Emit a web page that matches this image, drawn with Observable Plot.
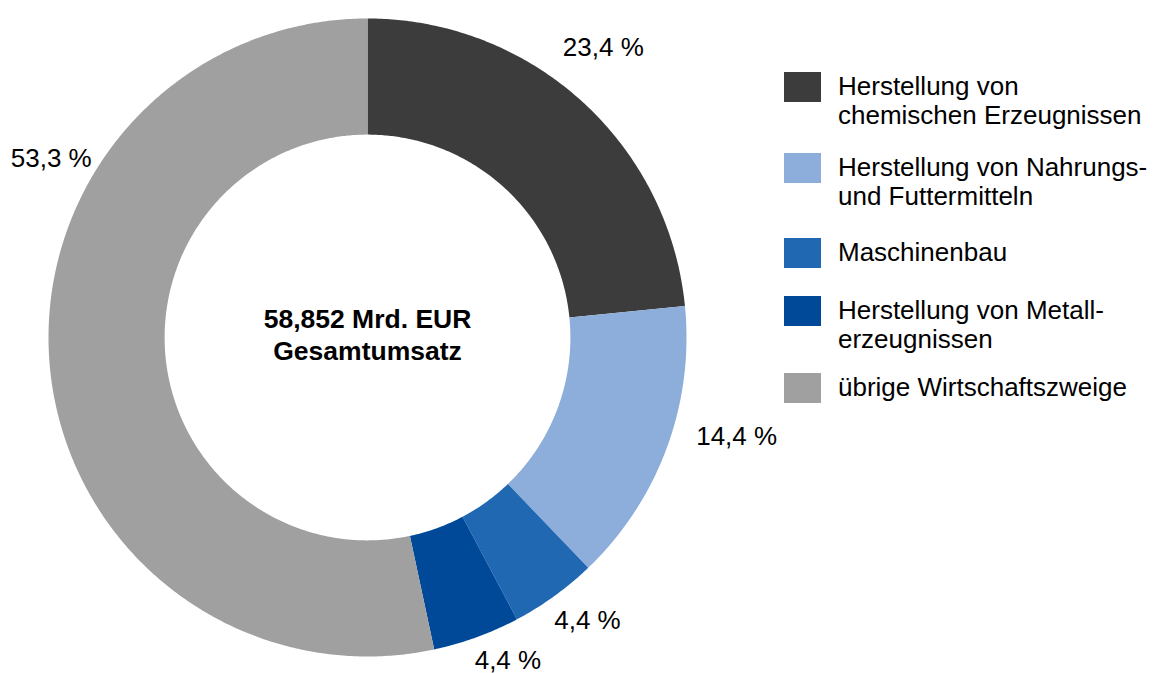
<!DOCTYPE html>
<html>
<head>
<meta charset="utf-8">
<script src="https://cdn.jsdelivr.net/npm/d3@7"></script>
<script src="https://cdn.jsdelivr.net/npm/@observablehq/plot@0.6"></script>
<style>
  html, body { margin: 0; padding: 0; background: #fff; }
  #wrap { position: relative; width: 1156px; height: 673px; font-family: "Liberation Sans", Arial, sans-serif; }
  #chart { position: absolute; left: 0; top: 0; }
  .lg-item { position: absolute; left: 784px; }
  .lg-sw { position: absolute; left: 0; width: 37px; height: 30px; }
  .lg-tx { position: absolute; left: 54px; white-space: pre; font-size: 26px; line-height: 29px; color: #000; }
</style>
</head>
<body>
<div id="wrap"><div id="chart"></div></div>
<script>
// ---- data ----
const categories = [
  "Herstellung von\nchemischen Erzeugnissen",
  "Herstellung von Nahrungs-\nund Futtermitteln",
  "Maschinenbau",
  "Herstellung von Metall-\nerzeugnissen",
  "übrige Wirtschaftszweige"
];
const shares = [23.4, 14.4, 4.4, 4.4, 53.3];
const shareLabels = ["23,4 %", "14,4 %", "4,4 %", "4,4 %", "53,3 %"];
const colors = ["#3c3c3c", "#8dadda", "#2068b2", "#004898", "#a0a0a0"];
const centerLines = ["58,852 Mrd. EUR", "Gesamtumsatz"];

// ---- layout ----
const innerRatio = 0.636;
const labelAngleDeg = [39.1, 105, 142.2, 156.5, 299.5];
const labelRadius = [1.172, 1.198, 1.125, 1.104, 1.139];
const legendTops = [72, 153, 238, 296, 373];

const total = d3.sum(shares);
const pts = [];
let cum = 0;
shares.forEach((v, i) => {
  const a0 = cum / total * 2 * Math.PI;
  cum += v;
  const a1 = cum / total * 2 * Math.PI;
  const n = Math.max(4, Math.ceil((a1 - a0) / (Math.PI / 360)));
  for (let k = 0; k <= n; k++) {
    const t = a0 + (a1 - a0) * k / n;
    pts.push({cat: categories[i], x: Math.sin(t), y: Math.cos(t)});
  }
  for (let k = n; k >= 0; k--) {
    const t = a0 + (a1 - a0) * k / n;
    pts.push({cat: categories[i], x: innerRatio * Math.sin(t), y: innerRatio * Math.cos(t)});
  }
});

const labels = shareLabels.map((s, i) => {
  const t = labelAngleDeg[i] * Math.PI / 180;
  return {text: s, x: labelRadius[i] * Math.sin(t), y: labelRadius[i] * Math.cos(t)};
});

const cx = 367, cy = 337, R = 319;
const chart = Plot.plot({
  width: 1156,
  height: 673,
  margin: 0,
  style: {fontFamily: '"Liberation Sans", Arial, sans-serif', background: "transparent", overflow: "visible"},
  x: {domain: [-1, 1], range: [cx - R, cx + R], axis: null},
  y: {domain: [-1, 1], range: [cy + R, cy - R], axis: null},
  color: {domain: categories, range: colors},
  marks: [
    Plot.line(pts, {x: "x", y: "y", z: "cat", fill: "cat", stroke: "none", curve: "linear"}),
    Plot.text(labels, {x: "x", y: "y", text: "text", fontSize: 26, fill: "#000", textAnchor: "middle", lineAnchor: "middle"}),
    Plot.text([centerLines.join("\n")], {x: () => 0, y: () => 0, text: d => d, fontSize: 26.5, fontWeight: "bold", fill: "#000", lineHeight: 1.2, lineAnchor: "middle", dy: -4})
  ]
});
document.getElementById("chart").appendChild(chart);

const wrap = document.getElementById("wrap");
categories.forEach((c, i) => {
  const item = document.createElement("div");
  item.className = "lg-item";
  item.style.top = legendTops[i] + "px";
  const sw = document.createElement("div");
  sw.className = "lg-sw";
  sw.style.background = colors[i];
  const tx = document.createElement("div");
  tx.className = "lg-tx";
  tx.style.top = "0px";
  tx.textContent = c;
  item.appendChild(sw);
  item.appendChild(tx);
  wrap.appendChild(item);
});
</script>
</body>
</html>
